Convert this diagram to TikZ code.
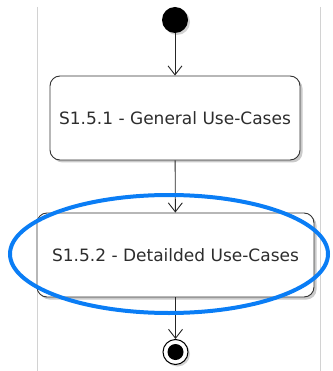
\documentclass[tikz,border=0pt]{standalone}
\usepackage{fontspec}
\setmainfont{DejaVu Sans}
\usetikzlibrary{arrows.meta,shadows,shapes.geometric}
\definecolor{lanegray}{RGB}{210,210,210}
\definecolor{hiblue}{RGB}{10,125,245}
\definecolor{textgray}{RGB}{45,45,45}
\tikzset{
  activity/.style={draw=black!80, line width=0.9pt, fill=white, rounded corners=10pt,
    drop shadow={shadow xshift=2.5pt, shadow yshift=-2.5pt, fill=black!35, opacity=0.6},
    font=\fontsize{17}{19}\selectfont, text=textgray, inner sep=0pt},
  flow/.style={draw=black!85, line width=0.9pt, -{Straight Barb[length=9pt,width=14pt,line width=0.9pt]}},
  lane/.style={draw=lanegray, line width=0.8pt},
  highlight/.style={draw=hiblue, line width=4pt}
}
\begin{document}
\begin{tikzpicture}
  \useasboundingbox (0pt,0pt) rectangle (332pt,-371pt);
  % swimlane borders
  \draw[lane] (37pt,-7pt) -- (37pt,-371pt);
  \draw[lane] (320pt,-7pt) -- (320pt,-371pt);
  % start node
  \node[circle, fill=black, minimum size=26pt, inner sep=0pt,
        drop shadow={shadow xshift=2pt, shadow yshift=-2pt, fill=black!35, opacity=0.5}] (start) at (175pt,-20pt) {};
  % activities
  \node[activity, minimum width=250pt, minimum height=84pt] (general) at (175pt,-118pt) {S1.5.1 - General Use-Cases};
  \node[activity, minimum width=277pt, minimum height=84pt] (detailed) at (175.5pt,-255pt) {S1.5.2 - Detailded Use-Cases};
  % end node
  \node[circle, draw=black, line width=1pt, fill=white, minimum size=25pt, inner sep=0pt,
        drop shadow={shadow xshift=2pt, shadow yshift=-2pt, fill=black!35, opacity=0.5}] (stop) at (175.5pt,-352pt) {};
  \node[circle, fill=black, minimum size=16pt, inner sep=0pt] (stopdot) at (stop.center) {};
  % connectors
  \draw[flow] (start) -- (general);
  \draw[flow] (general) -- (detailed);
  \draw[flow] (detailed) -- (stop);
  % highlight ring
  \node[highlight, ellipse, minimum width=318pt, minimum height=118pt, inner sep=0pt] (ring) at (169pt,-254pt) {};
\end{tikzpicture}
\end{document}
